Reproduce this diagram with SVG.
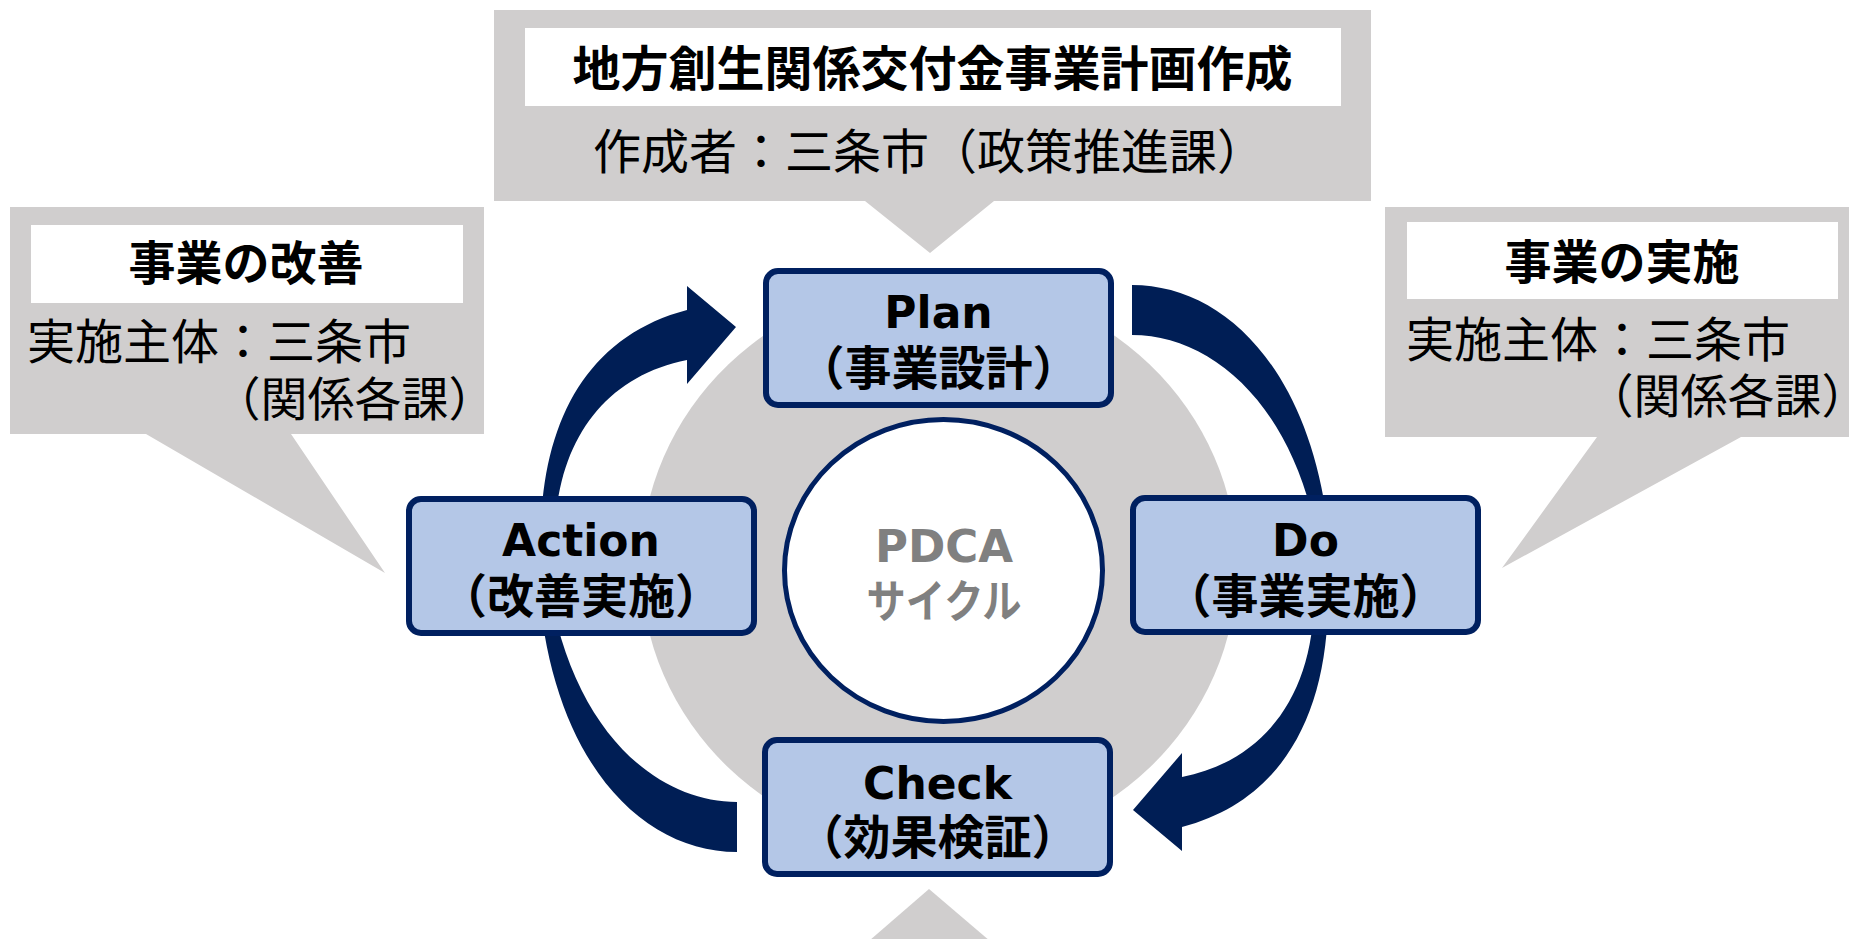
<svg xmlns="http://www.w3.org/2000/svg" width="1849" height="939" viewBox="0 0 1849 939">
<style>
.callout{fill:#d0cece}
.label{fill:#ffffff}
.jp{font-family:"Noto Sans CJK JP","Noto Sans CJK SC",sans-serif;fill:#000}
.b{font-weight:bold}
.halt{font-feature-settings:"halt"}
.box{fill:#b4c7e7;stroke:#002060;stroke-width:6}
.en{font-family:"DejaVu Sans",sans-serif;font-weight:bold;font-size:44px}
.arrow{fill:#001e55}
</style>
<rect width="1849" height="939" fill="#ffffff"/>

<g id="callout-top">
  <path class="callout" d="M494 10 H1371 V201 H994 L930 253 L865 201 H494 Z"/>
  <rect class="label" x="525" y="28" width="816" height="78"/>
  <text class="jp b" x="932.5" y="86" font-size="48" text-anchor="middle">地方創生関係交付金事業計画作成</text>
  <text class="jp" x="593" y="169" font-size="48">作成者：三条市（政策推進課）</text>
</g>

<g id="callout-left">
  <path class="callout" d="M10 207 H484 V434 H291 L385 573 L146 434 H10 Z"/>
  <rect class="label" x="31" y="225" width="432" height="78"/>
  <text class="jp b" x="246" y="280" font-size="47" text-anchor="middle">事業の改善</text>
  <text class="jp" font-size="48"><tspan x="27" y="359">実施主体：三条市</tspan><tspan class="halt" x="472" y="416" font-size="47" text-anchor="end">（関係各課）</tspan></text>
</g>

<g id="callout-right">
  <path class="callout" d="M1385 207 H1849 V437 H1741 L1502 568 L1597 437 H1385 Z"/>
  <rect class="label" x="1407" y="222" width="431" height="77"/>
  <text class="jp b" x="1622" y="279" font-size="47" text-anchor="middle">事業の実施</text>
  <text class="jp" font-size="48"><tspan x="1406" y="357">実施主体：三条市</tspan><tspan class="halt" x="1845" y="413" font-size="47" text-anchor="end">（関係各課）</tspan></text>
</g>

<g id="callout-bottom">
  <path class="callout" d="M929 889 L997 947 L862 947 Z"/>
</g>

<g id="cycle-background">
  <ellipse cx="939" cy="566" rx="298" ry="285" fill="#d0cece"/>
</g>

<g id="pdca-center">
  <ellipse cx="943.5" cy="570.5" rx="159" ry="151" fill="#ffffff" stroke="#002060" stroke-width="5"/>
  <text font-weight="bold" fill="#808080" text-anchor="middle"><tspan x="944" y="562" font-family="DejaVu Sans, sans-serif" font-size="45">PDCA</tspan><tspan x="944" y="618" font-family="Noto Sans CJK JP, sans-serif" font-size="45" textLength="155" lengthAdjust="spacingAndGlyphs">サイクル</tspan></text>
</g>

<g id="connectors">
  <g id="arrow-plan-do-check">
    <path class="arrow" d="M1132 285 C1230 285 1320 380 1331 560 L1321 560 C1300 410 1215 335 1132 335 Z"/>
    <path class="arrow" d="M1328 590 C1330 710 1285 800 1182 827 L1182 851 L1133 810 L1182 753 L1182 777 C1268 760 1316 690 1314 590 Z"/>
  </g>
  <g id="arrow-check-action-plan" transform="rotate(180 934.5 568.5)">
    <path class="arrow" d="M1132 285 C1230 285 1320 380 1331 560 L1321 560 C1300 410 1215 335 1132 335 Z"/>
    <path class="arrow" d="M1328 590 C1330 710 1285 800 1182 827 L1182 851 L1133 810 L1182 753 L1182 777 C1268 760 1316 690 1314 590 Z"/>
  </g>
</g>

<g id="node-plan">
  <rect class="box" x="766" y="271" width="345" height="134" rx="12"/>
  <text text-anchor="middle" fill="#000"><tspan class="en" x="938.5" y="328">Plan</tspan><tspan class="jp b" x="938.5" y="385" font-size="47">（事業設計）</tspan></text>
</g>

<g id="node-do">
  <rect class="box" x="1133" y="498" width="345" height="134" rx="12"/>
  <text text-anchor="middle" fill="#000"><tspan class="en" x="1305.5" y="556">Do</tspan><tspan class="jp b" x="1305.5" y="613" font-size="47">（事業実施）</tspan></text>
</g>

<g id="node-check">
  <rect class="box" x="765" y="740" width="345" height="134" rx="12"/>
  <text text-anchor="middle" fill="#000"><tspan class="en" x="937.5" y="799">Check</tspan><tspan class="jp b" x="937.5" y="854" font-size="47">（効果検証）</tspan></text>
</g>

<g id="node-action">
  <rect class="box" x="409" y="499" width="345" height="134" rx="12"/>
  <text text-anchor="middle" fill="#000"><tspan class="en" x="581" y="556">Action</tspan><tspan class="jp b" x="581" y="613" font-size="47">（改善実施）</tspan></text>
</g>
</svg>
